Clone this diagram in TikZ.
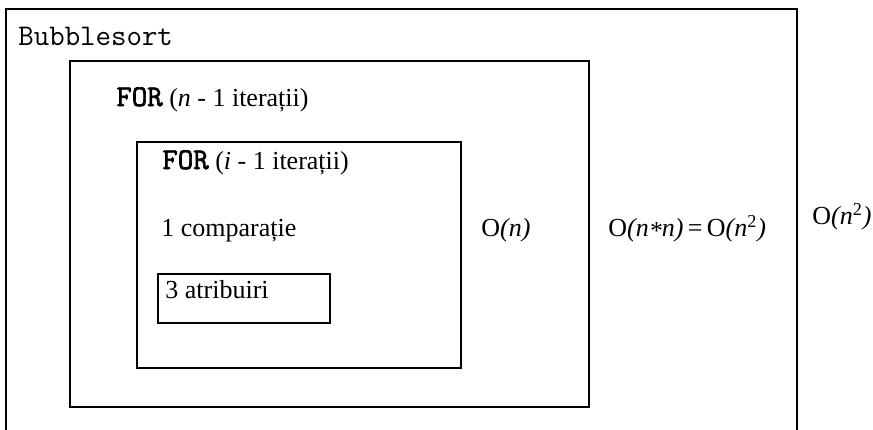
\documentclass[tikz,border=0pt]{standalone}
\usepackage{fontspec}
\setmainfont{Liberation Serif}
\newfontfamily\kwfont[FakeBold=2.2]{Latin Modern Mono}
\usetikzlibrary{calc}

\tikzset{
	frame/.style = {line width = 1.2pt},
	txt/.style = {anchor = base west, inner sep = 0pt, font = \fontsize{13}{15}\selectfont},
}
\newcommand{\kw}[1]{{\fontsize{15}{15}\selectfont\kwfont #1}}

\begin{document}
\begin{tikzpicture}[x = 0.5pt, y = -0.5pt]
	\useasboundingbox (0, 0) rectangle (873, 429);
	\clip (0, 0) rectangle (873, 429);
	\fill[white] (0, 0) rectangle (873, 429);

	% nested loop frames
	\coordinate (sortA) at (6, 445);
	\coordinate (sortB) at (797, 9);
	\coordinate (outA) at (70, 61);
	\coordinate (outB) at (589, 407);
	\coordinate (inA) at (137, 142);
	\coordinate (inB) at (461, 368);
	\coordinate (swapA) at (158, 274);
	\coordinate (swapB) at (330, 323);

	\draw[frame] (sortA) |- (sortB) -- (sortB |- sortA);
	\draw[frame] (outA) rectangle (outB);
	\draw[frame] (inA) rectangle (inB);
	\draw[frame] (swapA) rectangle (swapB);

	\node[txt] (title) at (18, 45) {\fontsize{15}{15}\selectfont\ttfamily Bubblesort};
	\node[txt] (forn) at (116, 106) {\kw{FOR} (\textit{n} - 1 iterații)};
	\node[txt] (fori) at (162, 169) {\kw{FOR} (\textit{i} - 1 iterații)};
	\node[txt] (cmp) at (161, 236) {1 comparație};
	\node[txt] (swap) at (165, 298) {3 atribuiri};

	% cost of each level
	\node[txt] (costin) at (481, 236) {O\textit{(n)}};
	\node[txt] (costout) at (608, 236) {O\textit{(n\raisebox{-0.3ex}{*}n)}\,=\,O\textit{(n}\textsuperscript{2}\textit{)}};
	\node[txt] (costall) at (812, 224) {O\textit{(n}\textsuperscript{2}\textit{)}};
\end{tikzpicture}
\end{document}
